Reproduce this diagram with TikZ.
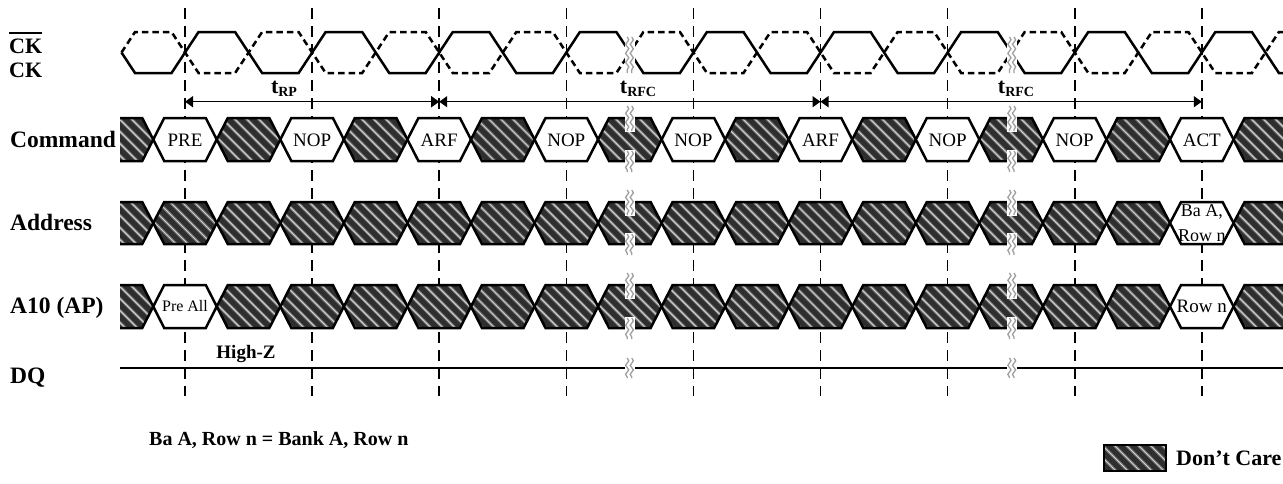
\documentclass[tikz,border=0pt]{standalone}
\usepackage{fontspec}
\setmainfont{Liberation Serif}
\usetikzlibrary{arrows.meta,decorations.pathmorphing}
\definecolor{dcfill}{HTML}{2E2E2E}
\definecolor{dcstripe}{HTML}{D0D0D0}
\definecolor{dchalo}{HTML}{6E6E6E}
\definecolor{brkcol}{HTML}{A0A0A0}

\newcommand{\hexcoords}[3]{%
  \pgfmathsetmacro\hxA{#1-31.775}%
  \pgfmathsetmacro\hxB{#1-20.775}%
  \pgfmathsetmacro\hxC{#1+20.775}%
  \pgfmathsetmacro\hxD{#1+31.775}%
  \pgfmathsetmacro\hyM{(#2+#3)/2}}
\newcommand{\darkhex}[3]{%
  \hexcoords{#1}{#2}{#3}%
  \begin{scope}
    \clip (\hxA,\hyM) -- (\hxB,#2) -- (\hxC,#2) -- (\hxD,\hyM) -- (\hxC,#3) -- (\hxB,#3) -- cycle;
    \fill[dcfill] (\hxA,#2) rectangle (\hxD,#3);
    \foreach \s in {-7,...,3} {
      \draw[stripehalo] ({#1+\s*12-3},#2) -- ++({#3-#2},{#3-#2});
      \draw[stripe] ({#1+\s*12-3},#2) -- ++({#3-#2},{#3-#2});
    }
  \end{scope}
  \draw[wave] (\hxA,\hyM) -- (\hxB,#2) -- (\hxC,#2) -- (\hxD,\hyM) -- (\hxC,#3) -- (\hxB,#3) -- cycle;}
\newcommand{\whitehex}[3]{%
  \hexcoords{#1}{#2}{#3}%
  \draw[wave,fill=white] (\hxA,\hyM) -- (\hxB,#2) -- (\hxC,#2) -- (\hxD,\hyM) -- (\hxC,#3) -- (\hxB,#3) -- cycle;}
\newcommand{\brkmark}[3]{%
  \fill[white] ({#1-5},#2) rectangle ({#1+5},#3);
  \draw[brkline] ({#1-2.3},{#2+1}) -- ({#1-2.3},{#3-1});
  \draw[brkline] ({#1+2.3},{#2+1}) -- ({#1+2.3},{#3-1});}

\begin{document}
\begin{tikzpicture}[x=1pt,y=-1pt,
  wave/.style={line width=2.5pt, line join=miter},
  clk/.style={line width=2.5pt},
  clkbar/.style={line width=2.5pt, dash pattern=on 6.5pt off 4pt},
  gridline/.style={line width=1.6pt, dash pattern=on 11pt off 7pt},
  stripe/.style={draw=dcstripe, line width=1pt},
  stripehalo/.style={draw=dchalo, line width=3pt},
  brkline/.style={draw=brkcol, line width=1.3pt, decorate, decoration={snake, amplitude=1.6pt, segment length=9pt}},
  dimarrow/.style={line width=1.5pt, <->, >={Triangle[length=8pt,width=11pt]}},
  rowlbl/.style={font=\bfseries\fontsize{23.5}{23.5}\selectfont, anchor=base west, inner sep=0pt},
  cklbl/.style={font=\bfseries\fontsize{22}{22}\selectfont, anchor=base west, inner sep=0pt},
  cmdtxt/.style={font=\fontsize{19}{19}\selectfont, inner sep=0pt},
  timelbl/.style={font=\bfseries\fontsize{22}{22}\selectfont, inner sep=0pt}]
\useasboundingbox (0,0) rectangle (1283,483);
\clip (0,0) rectangle (1283,483);

% grid lines
\foreach \m in {0,...,8} {
  \coordinate (gt\m) at ({185+\m*127.1},8);
  \coordinate (gb\m) at ({185+\m*127.1},396);
  \coordinate (d\m) at ({185+\m*127.1},101.7);
  \draw[gridline] (gt\m) -- (gb\m);
}

% clocks
\draw[clk] (121.5,52.5) -- (135,73)
  foreach \j in {1,...,19} { -- ({121.5+\j*63.55-13.5},{52.5+20.5*(2*mod(\j,2)-1)}) -- ({121.5+\j*63.55+13.5},{52.5-20.5*(2*mod(\j,2)-1)}) };
\draw[clkbar] (121.5,52.5) -- (135,32)
  foreach \j in {1,...,19} { -- ({121.5+\j*63.55-13.5},{52.5-20.5*(2*mod(\j,2)-1)}) -- ({121.5+\j*63.55+13.5},{52.5+20.5*(2*mod(\j,2)-1)}) };

% rows
\begin{scope}
\clip (120,0) rectangle (1283,483);
\foreach \k in {-1,...,17} {
  \pgfmathsetmacro\segx{185+\k*63.55}
  \ifodd\k\relax \darkhex{\segx}{118}{161}\else \whitehex{\segx}{118}{161}\fi
}
\foreach \k in {-1,...,15,17} {
  \pgfmathsetmacro\segx{185+\k*63.55}
  \darkhex{\segx}{202}{244}
}
\whitehex{1201.8}{202}{244}
\foreach \k in {-1,1,2,3,4,5,6,7,8,9,10,11,12,13,14,15,17} {
  \pgfmathsetmacro\segx{185+\k*63.55}
  \darkhex{\segx}{285}{328}
}
\whitehex{185}{285}{328}
\whitehex{1201.8}{285}{328}
\end{scope}

% DQ line
\coordinate (dqL) at (120,368);
\coordinate (dqR) at (1283,368);
\draw[wave] (dqL) -- (dqR);

% break marks
\foreach \bx in {629.5,1011.75} {
  \brkmark{\bx}{36}{74}
  \brkmark{\bx}{105}{132}
  \brkmark{\bx}{150}{173}
  \brkmark{\bx}{189}{216}
  \brkmark{\bx}{233}{256}
  \brkmark{\bx}{272}{299}
  \brkmark{\bx}{317}{340}
  \brkmark{\bx}{357}{379}
}

% timing arrows
\draw[dimarrow] (d0) -- (d2);
\draw[dimarrow] (d2) -- (d5);
\draw[dimarrow] (d5) -- (d8);
\node[timelbl] (trp) at (284,89) {t\raisebox{-3.5pt}{\fontsize{14}{14}\selectfont RP}};
\node[timelbl] (trfca) at (638,89) {t\raisebox{-3.5pt}{\fontsize{14}{14}\selectfont RFC}};
\node[timelbl] (trfcb) at (1016,89) {t\raisebox{-3.5pt}{\fontsize{14}{14}\selectfont RFC}};

% command texts
\node[cmdtxt] (c0) at (185,140) {PRE};
\node[cmdtxt] (c2) at (312.1,140) {NOP};
\node[cmdtxt] (c4) at (439.2,140) {ARF};
\node[cmdtxt] (c6) at (566.3,140) {NOP};
\node[cmdtxt] (c8) at (693.4,140) {NOP};
\node[cmdtxt] (c10) at (820.5,140) {ARF};
\node[cmdtxt] (c12) at (947.6,140) {NOP};
\node[cmdtxt] (c14) at (1074.7,140) {NOP};
\node[cmdtxt] (c16) at (1201.8,140) {ACT};
\node[font=\fontsize{18}{25}\selectfont, inner sep=0pt, align=center] (adr16) at (1201.8,223.5) {Ba A,\\Row n};
\node[font=\fontsize{16}{16}\selectfont, inner sep=0pt] (ap0) at (185,306.5) {Pre All};
\node[cmdtxt] (ap16) at (1201.8,306.5) {Row n};
\node[font=\bfseries\fontsize{19}{19}\selectfont, inner sep=0pt] (hiz) at (246,354) {High-Z};

% row labels
\node[cklbl] (ckbar) at (9,53) {CK};
\draw[line width=1.6pt] ([yshift=5pt]ckbar.north west) -- ([yshift=5pt]ckbar.north east);
\node[cklbl] (ck) at (9,77) {CK};
\node[rowlbl] (cmd) at (10,147) {Command};
\node[rowlbl] (addr) at (10,230) {Address};
\node[rowlbl] (a10) at (10,313) {A10 (AP)};
\node[rowlbl] (dq) at (10,383) {DQ};

% footnote
\node[font=\bfseries\fontsize{20}{20}\selectfont, anchor=base west, inner sep=0pt] (note) at (149,445) {Ba A, Row n = Bank A, Row n};

% legend
\begin{scope}
  \clip (1104,445) rectangle (1166,471);
  \fill[dcfill] (1104,445) rectangle (1166,471);
  \foreach \s in {0,...,8} {
    \draw[stripehalo] ({1078+\s*12},445) -- ++(26,26);
    \draw[stripe] ({1078+\s*12},445) -- ++(26,26);
  }
\end{scope}
\draw[line width=1.8pt] (1104,445) rectangle (1166,471);
\node[font=\bfseries\fontsize{22}{22}\selectfont, anchor=west, inner sep=0pt] (dc) at (1176,458) {Don’t Care};
\end{tikzpicture}
\end{document}
